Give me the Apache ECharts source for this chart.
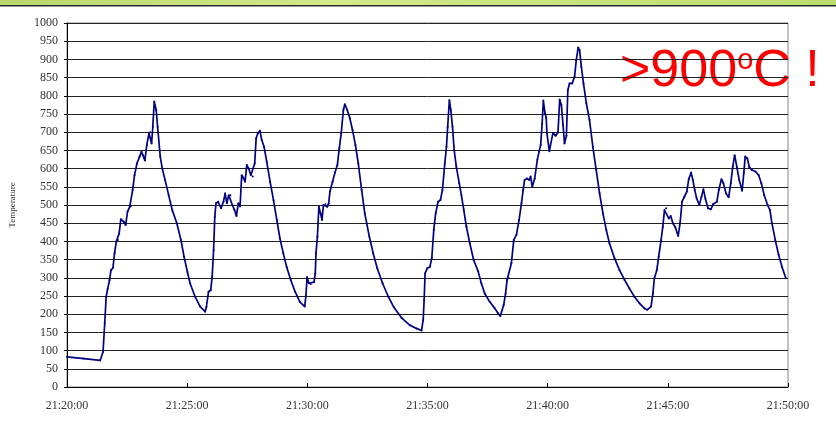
<!DOCTYPE html>
<html>
<head>
<meta charset="utf-8">
<script src="https://cdn.jsdelivr.net/npm/echarts@6/dist/echarts.min.js"></script>
<style>
  html, body { margin: 0; padding: 0; background: #fff; }
  #chart { width: 836px; height: 441px; }
</style>
</head>
<body>
<div id="chart"></div>
<script>
// minutes after 21:20:00
var minutes = [
  0.00, 0.70, 1.38, 1.50, 1.57, 1.63, 1.69, 1.77, 1.83, 1.91, 1.98, 2.05, 2.12, 2.17, 2.24, 2.36, 2.44, 2.52, 2.61, 2.66,
  2.73, 2.81, 2.91, 3.02, 3.10, 3.16, 3.24, 3.32, 3.41, 3.46, 3.52, 3.57, 3.63, 3.71, 3.77, 3.88, 3.96, 4.08, 4.23, 4.38,
  4.57, 4.74, 4.87, 5.01, 5.12, 5.33, 5.54, 5.75, 5.80, 5.89, 5.98, 6.04, 6.10, 6.15, 6.20, 6.29, 6.41, 6.51, 6.58, 6.65,
  6.73, 6.80, 6.88, 6.97, 7.05, 7.13, 7.20, 7.27, 7.35, 7.41, 7.48, 7.56, 7.65, 7.73, 7.81, 7.87, 7.94, 8.03, 8.10, 8.20,
  8.31, 8.45, 8.59, 8.73, 8.86, 9.00, 9.14, 9.31, 9.49, 9.69, 9.89, 9.94, 9.99, 10.06, 10.14, 10.28, 10.33, 10.36, 10.42, 10.48,
  10.55, 10.61, 10.67, 10.75, 10.83, 10.89, 10.94, 11.05, 11.15, 11.25, 11.33, 11.41, 11.50, 11.56, 11.66, 11.77, 11.88, 12.00, 12.12, 12.26,
  12.39, 12.58, 12.74, 12.91, 13.13, 13.37, 13.60, 13.92, 14.26, 14.54, 14.75, 14.82, 14.86, 14.90, 14.99, 15.10, 15.18, 15.26, 15.34, 15.44,
  15.54, 15.62, 15.72, 15.79, 15.84, 15.91, 15.97, 16.04, 16.11, 16.20, 16.32, 16.41, 16.51, 16.62, 16.76, 16.92, 17.11, 17.24, 17.38, 17.59,
  17.80, 17.94, 18.03, 18.17, 18.25, 18.31, 18.39, 18.49, 18.59, 18.70, 18.81, 18.91, 18.98, 19.04, 19.14, 19.23, 19.29, 19.36, 19.46, 19.57,
  19.64, 19.71, 19.77, 19.82, 19.89, 19.94, 19.97, 20.07, 20.22, 20.33, 20.43, 20.50, 20.57, 20.64, 20.70, 20.78, 20.84, 20.91, 21.02, 21.12,
  21.19, 21.27, 21.33, 21.40, 21.49, 21.61, 21.74, 21.88, 22.02, 22.16, 22.30, 22.44, 22.57, 22.78, 22.99, 23.20, 23.40, 23.61, 23.82, 24.03,
  24.14, 24.30, 24.38, 24.44, 24.54, 24.62, 24.72, 24.79, 24.86, 24.93, 25.04, 25.12, 25.21, 25.31, 25.43, 25.51, 25.59, 25.69, 25.79, 25.87,
  25.97, 26.04, 26.12, 26.20, 26.31, 26.40, 26.48, 26.56, 26.67, 26.79, 26.89, 27.04, 27.12, 27.23, 27.31, 27.42, 27.53, 27.62, 27.70, 27.78,
  27.87, 27.97, 28.09, 28.16, 28.22, 28.31, 28.39, 28.50, 28.64, 28.78, 28.89, 29.01, 29.15, 29.25, 29.33, 29.47, 29.61, 29.75, 29.91
];
var temperature = [
  83, 78, 73, 97, 176, 248, 269, 294, 321, 327, 368, 399, 404, 422, 461, 454, 445, 482, 495, 497,
  541, 582, 614, 633, 646, 637, 622, 665, 697, 700, 669, 715, 784, 761, 715, 633, 601, 569, 527, 486,
  450, 404, 358, 316, 285, 248, 221, 207, 220, 262, 266, 303, 376, 468, 505, 509, 491, 509, 532, 505,
  527, 527, 500, 486, 470, 505, 496, 582, 573, 564, 610, 600, 582, 578, 614, 683, 697, 704, 679, 660,
  619, 564, 514, 459, 408, 367, 330, 294, 262, 234, 221, 250, 302, 285, 283, 288, 312, 367, 413, 495,
  477, 459, 500, 502, 495, 505, 537, 564, 589, 610, 656, 697, 761, 777, 761, 738, 706, 665, 614, 541,
  477, 413, 367, 326, 285, 248, 219, 190, 170, 161, 155, 184, 239, 312, 326, 330, 355, 431, 477, 509,
  514, 541, 614, 660, 715, 788, 761, 715, 651, 605, 560, 527, 486, 440, 395, 349, 317, 285, 257, 234,
  216, 202, 195, 225, 257, 294, 299, 340, 404, 418, 459, 505, 541, 569, 573, 569, 578, 550, 573, 624,
  646, 665, 724, 787, 752, 740, 697, 648, 698, 690, 700, 790, 775, 720, 669, 690, 816, 834, 834, 853,
  898, 933, 925, 880, 834, 779, 734, 660, 596, 532, 477, 431, 395, 354, 321, 294, 271, 248, 230, 216,
  212, 221, 257, 299, 321, 358, 404, 440, 486, 491, 463, 470, 450, 439, 415, 450, 509, 523, 537, 571,
  589, 569, 541, 518, 500, 523, 543, 518, 491, 488, 503, 509, 541, 571, 560, 532, 521, 560, 605, 637,
  605, 569, 539, 587, 633, 628, 604, 596, 592, 582, 560, 527, 500, 486, 450, 404, 363, 330, 299
];
var xLabels = ['21:20:00', '21:25:00', '21:30:00', '21:35:00', '21:40:00', '21:45:00', '21:50:00'];

var myChart = echarts.init(document.getElementById('chart'));

var points = minutes.map(function (m, i) { return [m, temperature[i]]; });

option = {
    animation: false,
    grid: {
        left: 66,
        right: 48,
        top: 23,
        bottom: 54,
        show: true,
        borderColor: '#888',
        borderWidth: 1
    },
    xAxis: {
        type: 'value',
        min: 0,
        max: 30,
        interval: 5,
        axisLine: { lineStyle: { color: '#000', width: 1 } },
        axisTick: { inside: true, length: 4, lineStyle: { color: '#000' } },
        axisLabel: {
            margin: 13,
            color: '#333',
            fontFamily: 'Liberation Serif',
            fontSize: 12,
            formatter: function (v) { return xLabels[Math.round(v / 5)]; }
        },
        splitLine: { show: false }
    },
    yAxis: {
        type: 'value',
        min: 0,
        max: 1000,
        interval: 50,
        name: 'Temperature',
        nameLocation: 'middle',
        nameGap: 50,
        nameRotate: 90,
        nameTextStyle: { fontFamily: 'Liberation Serif', fontSize: 9, color: '#333' },
        axisLine: { show: true, lineStyle: { color: '#000', width: 1 } },
        axisTick: { show: true, length: 3, lineStyle: { color: '#000' } },
        axisLabel: {
            margin: 9,
            color: '#333',
            fontFamily: 'Liberation Serif',
            fontSize: 12,
            formatter: function (v) { return String(v); }
        },
        splitLine: { show: true, lineStyle: { color: '#222', width: 1 } }
    },
    graphic: [
        {
            type: 'rect',
            left: 0,
            top: 0,
            shape: { width: 836, height: 5 },
            style: {
                fill: new echarts.graphic.LinearGradient(0, 0, 1, 0, [
                    { offset: 0, color: '#b9d66c' },
                    { offset: 0.4, color: '#d2e98c' },
                    { offset: 1, color: '#bcdc6e' }
                ])
            }
        },
        {
            type: 'rect',
            left: 0,
            top: 5,
            shape: { width: 836, height: 1.5 },
            style: { fill: '#2a2a2a' }
        },
        {
            type: 'text',
            left: 620,
            top: 46,
            style: {
                text: '{a|>900}{b|o}{a|C !}',
                rich: {
                    a: { fontFamily: 'Liberation Sans', fontSize: 52, fill: '#ff0000' },
                    b: { fontFamily: 'Liberation Sans', fontSize: 29, fill: '#ff0000', verticalAlign: 'top', padding: [0, 0, 14, 0] }
                }
            }
        }
    ],
    series: [{
        type: 'line',
        data: points,
        showSymbol: true,
        symbol: 'circle',
        symbolSize: 2,
        itemStyle: { color: '#000080' },
        lineStyle: { color: '#000080', width: 1.7 },
        z: 3
    }]
};
myChart.setOption(option);
</script>
</body>
</html>
